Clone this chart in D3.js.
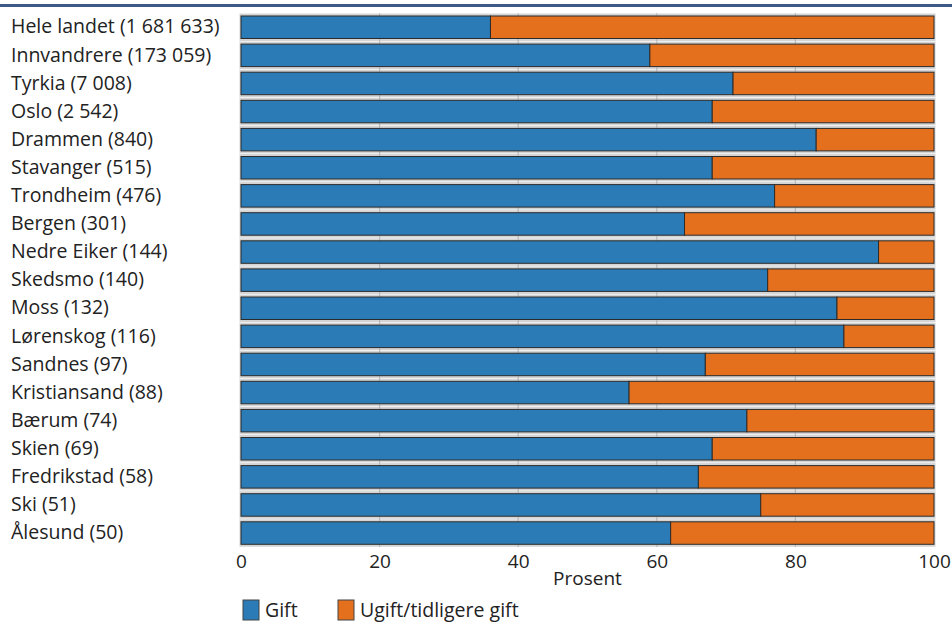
<!DOCTYPE html>
<html>
<head>
<meta charset="utf-8">
<script src="https://cdn.jsdelivr.net/npm/d3@7"></script>
<style>
  html, body { margin: 0; padding: 0; background: #fff; }
  svg { display: block; font-family: "Open Sans", "Noto Sans", sans-serif; }
</style>
</head>
<body>
<svg id="chart" width="952" height="630"></svg>
<script>
const categories = [
  "Hele landet (1 681 633)", "Innvandrere (173 059)", "Tyrkia (7 008)", "Oslo (2 542)",
  "Drammen (840)", "Stavanger (515)", "Trondheim (476)", "Bergen (301)",
  "Nedre Eiker (144)", "Skedsmo (140)", "Moss (132)", "Lørenskog (116)",
  "Sandnes (97)", "Kristiansand (88)", "Bærum (74)", "Skien (69)",
  "Fredrikstad (58)", "Ski (51)", "Ålesund (50)"
];
const gift = [36, 59, 71, 68, 83, 68, 77, 64, 92, 76, 86, 87, 67, 56, 73, 68, 66, 75, 62];
const ugift = gift.map(v => 100 - v);
const seriesNames = ["Gift", "Ugift/tidligere gift"];
const seriesColors = ["#2a7bb6", "#e4701e"];
const xTicks = [0, 20, 40, 60, 80, 100];
const xTitle = "Prosent";

const svg = d3.select("#chart");
const x = d3.scaleLinear().domain([0, 100]).range([241, 934]);
const y = d3.scaleBand().domain(categories).range([13.2, 547.1]).paddingInner(0.2).paddingOuter(0.1);

// top rule
svg.append("rect").attr("x", 0).attr("y", 4).attr("width", 952).attr("height", 3).attr("fill", "#3d5a87");

// shadows
svg.append("g").selectAll("rect").data(categories).join("rect")
  .attr("x", x(0) - 1.5).attr("width", x(100) - x(0) + 3)
  .attr("y", d => y(d) - 2.5).attr("height", y.bandwidth() + 5)
  .attr("fill", "#d4d4d4");

// grid
svg.append("g").selectAll("line").data(xTicks.slice(1, -1)).join("line")
  .attr("x1", d => x(d)).attr("x2", d => x(d))
  .attr("y1", y.range()[0]).attr("y2", y.range()[1])
  .attr("stroke", "#b8b8b8").attr("stroke-width", 1.2);

const stackData = categories.map((c, i) => ({ cat: c, Gift: gift[i], "Ugift/tidligere gift": ugift[i] }));
const stack = d3.stack().keys(seriesNames)(stackData);

svg.append("g").selectAll("g").data(stack).join("g")
  .attr("fill", (d, i) => seriesColors[i])
  .selectAll("rect").data(d => d).join("rect")
  .attr("x", d => x(d[0])).attr("width", d => x(d[1]) - x(d[0]))
  .attr("y", d => y(d.data.cat)).attr("height", y.bandwidth())
  .attr("stroke", "#2b2b2b").attr("stroke-width", 1);

// category labels
svg.append("g").selectAll("text").data(categories).join("text")
  .attr("x", 11).attr("y", d => y(d) + y.bandwidth() / 2 + 1)
  .attr("dominant-baseline", "middle")
  .attr("font-size", 19.5).attr("fill", "#222")
  .text(d => d);

// x axis
const axis = svg.append("g").attr("transform", `translate(0,${y.range()[1]})`)
  .call(d3.axisBottom(x).tickValues(xTicks).tickSize(0).tickPadding(7).tickFormat(d3.format("d")));
axis.select(".domain").remove();
axis.selectAll("text").attr("font-size", 19).attr("fill", "#222").attr("font-family", "Open Sans, Noto Sans, sans-serif");

svg.append("text").attr("x", (x(0) + x(100)) / 2).attr("y", 585)
  .attr("text-anchor", "middle").attr("font-size", 19).attr("fill", "#222").text(xTitle);

// legend
const legendX = [243, 338];
const lg = svg.append("g").selectAll("g").data(seriesNames).join("g")
  .attr("transform", (d, i) => `translate(${legendX[i]},600)`);
lg.append("rect").attr("width", 16).attr("height", 20)
  .attr("fill", (d, i) => seriesColors[i]).attr("stroke", "#444").attr("stroke-width", 1);
lg.append("text").attr("x", 22).attr("y", 17).attr("font-size", 19.5).attr("fill", "#222").text(d => d);
</script>
</body>
</html>
